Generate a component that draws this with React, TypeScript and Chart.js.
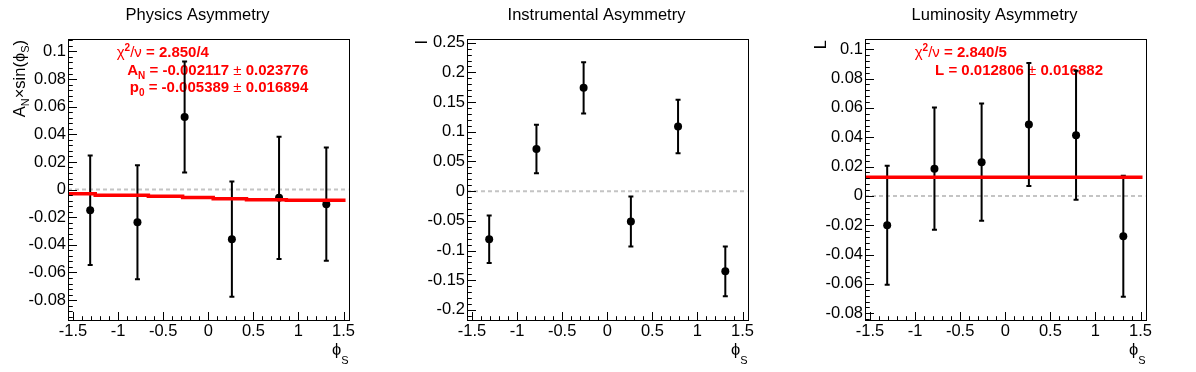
import React, { useEffect, useRef } from "react";
import { Chart, registerables } from "chart.js";
Chart.register(...registerables);

const FONT = "'Liberation Sans', Arial, Helvetica, sans-serif";

// ---- shared x axis ----
const X_CENTERS = [-1.309, -0.785, -0.262, 0.262, 0.785, 1.309];
const X_MIN = -1.555;
const X_MAX = 1.555;
const X_TICKS = [-1.5, -1, -0.5, 0, 0.5, 1, 1.5];
const X_TICK_LABELS = ["-1.5", "-1", "-0.5", "0", "0.5", "1", "1.5"];

// ---- Physics asymmetry ----
const PHYS_VALUES = [-0.0149, -0.0236, 0.0525, -0.0359, -0.006, -0.0106];
const PHYS_ERRORS = [0.0396, 0.0413, 0.0402, 0.0417, 0.0442, 0.041];
const PHYS_FIT_X = [-1.555, -1.253, -0.664, -0.284, 0.055, 0.424, 0.866, 1.522];
const PHYS_FIT_Y = [-0.0031, -0.0041, -0.0048, -0.0058, -0.0066, -0.0073, -0.0077, -0.0077];
const PHYS_Y_TICKS = [0.1, 0.08, 0.06, 0.04, 0.02, 0, -0.02, -0.04, -0.06, -0.08];
const PHYS_Y_LABELS = ["0.1", "0.08", "0.06", "0.04", "0.02", "0", "-0.02", "-0.04", "-0.06", "-0.08"];

// ---- Instrumental asymmetry ----
const INST_VALUES = [-0.081, 0.071, 0.174, -0.051, 0.109, -0.135];
const INST_ERRORS = [0.04, 0.041, 0.043, 0.042, 0.045, 0.042];
const INST_Y_TICKS = [0.25, 0.2, 0.15, 0.1, 0.05, 0, -0.05, -0.1, -0.15, -0.2];
const INST_Y_LABELS = ["0.25", "0.2", "0.15", "0.1", "0.05", "0", "-0.05", "-0.1", "-0.15", "-0.2"];

// ---- Luminosity asymmetry ----
const LUMI_VALUES = [-0.02, 0.0186, 0.023, 0.0487, 0.0414, -0.0275];
const LUMI_ERRORS = [0.0405, 0.0417, 0.04, 0.042, 0.044, 0.0412];
const LUMI_FIT_X = [-1.555, 1.522];
const LUMI_FIT_Y = [0.012806, 0.012806];
const LUMI_Y_TICKS = [0.1, 0.08, 0.06, 0.04, 0.02, 0, -0.02, -0.04, -0.06, -0.08];
const LUMI_Y_LABELS = ["0.1", "0.08", "0.06", "0.04", "0.02", "0", "-0.02", "-0.04", "-0.06", "-0.08"];

interface Seg { t: string; size: number; bold?: boolean; dy?: number; }
interface TextLine { segs: Seg[]; x: number; y: number; align: "left" | "right"; }
interface Panel {
  title: string;
  yMin: number; yMax: number;
  yTicks: number[]; yLabels: string[];
  minorStep: number; majorEvery: number;
  values: number[]; errors: number[];
  fitX?: number[]; fitY?: number[]; stepped?: boolean;
  yTitle: Seg[]; yTitleX: number;
  fitText: TextLine[];
}

const TS = 16.5; // axis text size
const FS = 15;   // fit text size
const SUB = 10;

const chi = (v: string): Seg[] => [
  { t: "χ", size: FS },
  { t: "2", size: SUB, bold: true, dy: -6 },
  { t: "/", size: FS },
  { t: "ν", size: FS },
  { t: " = " + v, size: FS, bold: true },
];

const PANELS: Panel[] = [
  {
    title: "Physics Asymmetry",
    yMin: -0.0944, yMax: 0.109,
    yTicks: PHYS_Y_TICKS, yLabels: PHYS_Y_LABELS,
    minorStep: 0.004, majorEvery: 5,
    values: PHYS_VALUES, errors: PHYS_ERRORS,
    fitX: PHYS_FIT_X, fitY: PHYS_FIT_Y, stepped: true,
    yTitle: [
      { t: "A", size: TS }, { t: "N", size: 11, dy: 4 }, { t: "×sin(", size: TS },
      { t: "ϕ", size: TS }, { t: "S", size: 11, dy: 4 }, { t: ")", size: TS },
    ],
    yTitleX: 25,
    fitText: [
      { segs: chi("2.850/4"), x: 116.7, y: 57, align: "left" },
      {
        segs: [
          { t: "A", size: FS, bold: true }, { t: "N", size: SUB, bold: true, dy: 4 },
          { t: " = -0.002117 ", size: FS, bold: true }, { t: "±", size: FS },
          { t: " 0.023776", size: FS, bold: true },
        ], x: 308.3, y: 74.5, align: "right",
      },
      {
        segs: [
          { t: "p", size: FS, bold: true }, { t: "0", size: SUB, bold: true, dy: 4 },
          { t: " = -0.005389 ", size: FS, bold: true }, { t: "±", size: FS },
          { t: " 0.016894", size: FS, bold: true },
        ], x: 308.3, y: 91.5, align: "right",
      },
    ],
  },
  {
    title: "Instrumental Asymmetry",
    yMin: -0.217, yMax: 0.2563,
    yTicks: INST_Y_TICKS, yLabels: INST_Y_LABELS,
    minorStep: 0.01, majorEvery: 5,
    values: INST_VALUES, errors: INST_ERRORS,
    yTitle: [{ t: "I", size: TS }],
    yTitleX: 28,
    fitText: [],
  },
  {
    title: "Luminosity Asymmetry",
    yMin: -0.0846, yMax: 0.107,
    yTicks: LUMI_Y_TICKS, yLabels: LUMI_Y_LABELS,
    minorStep: 0.004, majorEvery: 5,
    values: LUMI_VALUES, errors: LUMI_ERRORS,
    fitX: LUMI_FIT_X, fitY: LUMI_FIT_Y, stepped: false,
    yTitle: [{ t: "L", size: TS }],
    yTitleX: 29.3,
    fitText: [
      { segs: chi("2.840/5"), x: 117.7, y: 57, align: "left" },
      {
        segs: [
          { t: "L = 0.012806 ", size: FS, bold: true }, { t: "±", size: FS },
          { t: " 0.016882", size: FS, bold: true },
        ], x: 306, y: 74.5, align: "right",
      },
    ],
  },
];

const fontOf = (s: Seg) => `${s.bold ? "bold " : ""}${s.size}px ${FONT}`;
function segsWidth(ctx: CanvasRenderingContext2D, segs: Seg[]) {
  let w = 0;
  for (const s of segs) { ctx.font = fontOf(s); w += ctx.measureText(s.t).width; }
  return w;
}
function drawSegs(ctx: CanvasRenderingContext2D, segs: Seg[], x: number, y: number) {
  let cx = x;
  ctx.textAlign = "left";
  ctx.textBaseline = "alphabetic";
  for (const s of segs) {
    ctx.font = fontOf(s);
    ctx.fillText(s.t, cx, y + (s.dy || 0));
    cx += ctx.measureText(s.t).width;
  }
}

const W = 399;
const H = 372;
const FRAME_RIGHT = 348.5;

function makePlugin(p: Panel) {
  return {
    id: "rootStyle",
    beforeDatasetsDraw(chart: any) {
      const { ctx, chartArea: a, scales } = chart;
      const x = scales.x, y = scales.y;
      // dashed zero line
      ctx.save();
      ctx.beginPath();
      ctx.rect(a.left, a.top, a.right - a.left, a.bottom - a.top);
      ctx.clip();
      const y0 = y.getPixelForValue(0);
      ctx.strokeStyle = "#c4c4c4";
      ctx.lineWidth = 2;
      ctx.setLineDash([4, 3]);
      ctx.beginPath();
      ctx.moveTo(a.left, y0);
      ctx.lineTo(a.right, y0);
      ctx.stroke();
      ctx.restore();

      // fit text
      ctx.save();
      ctx.fillStyle = "#ff0000";
      for (const line of p.fitText) {
        const w = segsWidth(ctx, line.segs);
        const sx = line.align === "left" ? line.x : line.x - w;
        drawSegs(ctx, line.segs, sx, line.y);
      }
      ctx.restore();

      // error bars
      ctx.save();
      ctx.strokeStyle = "#000";
      ctx.lineWidth = 2;
      p.values.forEach((v, i) => {
        const px = x.getPixelForValue(X_CENTERS[i]);
        const top = y.getPixelForValue(v + p.errors[i]);
        const bot = y.getPixelForValue(v - p.errors[i]);
        ctx.beginPath();
        ctx.moveTo(px, top);
        ctx.lineTo(px, bot);
        ctx.moveTo(px - 2.5, top);
        ctx.lineTo(px + 2.5, top);
        ctx.moveTo(px - 2.5, bot);
        ctx.lineTo(px + 2.5, bot);
        ctx.stroke();
      });
      ctx.restore();
    },
    afterDraw(chart: any) {
      const { ctx, chartArea: a, scales } = chart;
      const x = scales.x, y = scales.y;
      ctx.save();
      ctx.strokeStyle = "#000";
      ctx.lineWidth = 1;
      const L = Math.round(a.left) + 0.5, R = Math.round(a.right) + 0.5;
      const T = Math.round(a.top) + 0.5, B = Math.round(a.bottom) + 0.5;
      ctx.strokeRect(L, T, R - L, B - T);
      ctx.beginPath();
      // x ticks
      for (let k = -16; k <= 16; k++) {
        const v = k / 10;
        if (v < X_MIN || v > X_MAX) continue;
        const px = Math.round(x.getPixelForValue(v)) + 0.5;
        const len = k % 5 === 0 ? 8.5 : 4.3;
        ctx.moveTo(px, B);
        ctx.lineTo(px, B - len);
      }
      // y ticks
      const kmin = Math.ceil(p.yMin / p.minorStep - 1e-9);
      const kmax = Math.floor(p.yMax / p.minorStep + 1e-9);
      for (let k = kmin; k <= kmax; k++) {
        const v = k * p.minorStep;
        const py = Math.round(y.getPixelForValue(v)) + 0.5;
        const len = k % p.majorEvery === 0 ? 8.5 : 4.3;
        ctx.moveTo(L, py);
        ctx.lineTo(L + len, py);
      }
      ctx.stroke();

      // title
      ctx.fillStyle = "#000";
      ctx.font = `${TS}px ${FONT}`;
      ctx.textAlign = "center";
      ctx.textBaseline = "alphabetic";
      ctx.fillText(p.title, 197.5, 20);

      // x title
      const xt: Seg[] = [{ t: "ϕ", size: TS }, { t: "S", size: 11, dy: 9 }];
      const xw = segsWidth(ctx, xt);
      drawSegs(ctx, xt, 348.5 - xw, 354.5);

      // y title (rotated, right-aligned to top)
      ctx.translate(p.yTitleX, 40);
      ctx.rotate(-Math.PI / 2);
      const yw = segsWidth(ctx, p.yTitle);
      drawSegs(ctx, p.yTitle, -yw, 0);
      ctx.restore();
    },
  };
}

function PanelChart({ p, left }: { p: Panel; left: number }) {
  const ref = useRef<HTMLCanvasElement | null>(null);
  useEffect(() => {
    if (!ref.current) return;
    const datasets: any[] = [];
    if (p.fitX && p.fitY) {
      datasets.push({
        type: "line",
        data: p.fitX.map((xv, i) => ({ x: xv, y: p.fitY![i] })),
        borderColor: "#ff0000",
        borderWidth: 3.5,
        pointRadius: 0,
        stepped: p.stepped ? "before" : false,
        tension: 0,
        order: 0,
        clip: 0,
      });
    }
    datasets.push({
      type: "line",
      data: X_CENTERS.map((xv, i) => ({ x: xv, y: p.values[i] })),
      showLine: false,
      pointRadius: 4,
      pointBackgroundColor: "#000",
      pointBorderWidth: 0,
      borderColor: "#000",
      order: 1,
    });
    const chart = new Chart(ref.current, {
      type: "line",
      data: { datasets },
      options: {
        animation: false,
        responsive: false,
        maintainAspectRatio: false,
        events: [],
        layout: { padding: { top: 39, right: W - FRAME_RIGHT, left: 0, bottom: 0 } },
        plugins: { legend: { display: false }, tooltip: { enabled: false }, title: { display: false } },
        scales: {
          x: {
            type: "linear",
            min: X_MIN,
            max: X_MAX,
            grid: { display: false, drawTicks: false },
            border: { display: false },
            ticks: {
              autoSkip: false,
              maxRotation: 0,
              padding: 2,
              color: "#000",
              font: { family: FONT, size: TS },
              callback: (v: any) => {
                const i = X_TICKS.findIndex((t) => Math.abs(t - v) < 1e-9);
                return i >= 0 ? X_TICK_LABELS[i] : "";
              },
            },
            afterBuildTicks: (s: any) => { s.ticks = X_TICKS.map((v) => ({ value: v })); },
            afterFit: (s: any) => { s.height = H - 320; },
          },
          y: {
            type: "linear",
            min: p.yMin,
            max: p.yMax,
            grid: { display: false, drawTicks: false },
            border: { display: false },
            ticks: {
              autoSkip: false,
              padding: 2,
              color: "#000",
              font: { family: FONT, size: TS },
              callback: (v: any) => {
                const i = p.yTicks.findIndex((t) => Math.abs(t - v) < 1e-9);
                return i >= 0 ? p.yLabels[i] : "";
              },
            },
            afterBuildTicks: (s: any) => { s.ticks = p.yTicks.slice().reverse().map((v) => ({ value: v })); },
            afterFit: (s: any) => { s.width = 68; },
          },
        },
      } as any,
      plugins: [makePlugin(p) as any],
    });
    return () => chart.destroy();
  }, [p]);
  return (
    <canvas
      ref={ref}
      width={W}
      height={H}
      style={{ position: "absolute", left, top: 0, width: W, height: H }}
    />
  );
}

export default function App() {
  useEffect(() => {
    document.body.style.margin = "0";
    document.body.style.overflow = "hidden";
  }, []);
  return (
    <div style={{ position: "absolute", left: 0, top: 0, width: 1196, height: 372, background: "#fff", overflow: "hidden" }}>
      <PanelChart p={PANELS[0]} left={0} />
      <PanelChart p={PANELS[1]} left={399} />
      <PanelChart p={PANELS[2]} left={797} />
    </div>
  );
}
